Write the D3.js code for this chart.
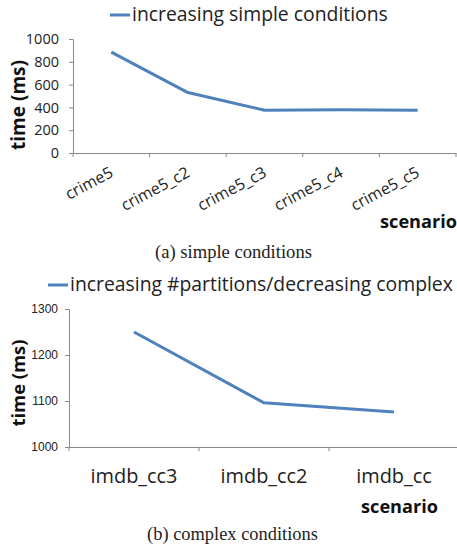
<!DOCTYPE html>
<html><head><meta charset="utf-8">
<script src="https://cdn.jsdelivr.net/npm/d3@7"></script>
<style>body{margin:0;background:#fff}svg{display:block}</style>
</head><body>
<svg id="c" width="457" height="546"></svg>
<script>
const catsA = ["crime5","crime5_c2","crime5_c3","crime5_c4","crime5_c5"];
const valsA = [885, 530, 375, 380, 375];
const ticksA = [0,200,400,600,800,1000];
const legendA = "increasing simple conditions";

const catsB = ["imdb_cc3","imdb_cc2","imdb_cc"];
const valsB = [1250, 1096, 1076];
const ticksB = [1000,1100,1200,1300];
const legendB = "increasing #partitions/decreasing complex";

const svg = d3.select("#c");
const BLUE = "#4F81BD", AX = "#888888", TXT = "#222";
const SANS = "'Open Sans', sans-serif";

function fit(sel, w){
  const n = sel.node();
  const fs = parseFloat(sel.style("font-size"));
  const cur = n.getComputedTextLength();
  sel.style("font-size", (fs*w/cur).toFixed(2)+"px");
  return sel;
}

function panel(o){
  const g = svg.append("g");
  const x = d3.scaleBand().domain(o.cats).range(o.xr);
  const y = d3.scaleLinear().domain(o.yd).range(o.yr);
  const ya = g.append("g").attr("transform",`translate(${o.xr[0]},0)`)
    .call(d3.axisLeft(y).tickValues(o.ticks).tickFormat(d3.format("d"))
      .tickSize(4).tickSizeOuter(0).tickPadding(o.ypad));
  ya.select(".domain").attr("stroke",AX);
  ya.selectAll(".tick line").attr("stroke",AX);
  ya.selectAll(".tick text").attr("fill",TXT).style("font-family",o.yfont).style("font-size",o.yfs+"px");
  const xa = g.append("g").attr("transform",`translate(0,${o.yr[0]})`)
    .call(d3.axisBottom(x).tickSize(0).tickSizeOuter(0));
  xa.select(".domain").attr("stroke",AX);
  xa.selectAll(".tick line").remove();
  const bounds = o.cats.map(c=>x(c)).concat([o.xr[1]]);
  g.selectAll("line.bt").data(bounds).join("line").attr("class","bt")
    .attr("x1",d=>d).attr("x2",d=>d).attr("y1",o.yr[0]).attr("y2",o.yr[0]+4).attr("stroke",AX);
  const tt = xa.selectAll(".tick text").attr("fill",TXT).style("font-family",SANS).style("font-size",o.xfs+"px");
  if (o.rot){
    tt.attr("text-anchor","end").attr("dy","0").attr("y",0)
      .attr("transform",`translate(${o.rotdx},${o.rotdy}) rotate(${o.rot})`);
  } else {
    tt.attr("dy","0").attr("y",o.xly);
    const first = xa.select(".tick text");
    const fs = parseFloat(first.style("font-size"));
    const nf = fs*o.xw/first.node().getComputedTextLength();
    tt.style("font-size", nf.toFixed(2)+"px");
  }
  g.append("path").datum(o.vals)
    .attr("fill","none").attr("stroke",BLUE).attr("stroke-width",3).attr("stroke-linejoin","round")
    .attr("d",d3.line().x((d,i)=>x(o.cats[i])+x.bandwidth()/2).y(d=>y(d)));
  g.append("line").attr("x1",o.lx).attr("x2",o.lx+20).attr("y1",o.ly).attr("y2",o.ly)
    .attr("stroke",BLUE).attr("stroke-width",3);
  fit(g.append("text").attr("x",o.lx+22).attr("y",o.ly+6).text(o.legend)
    .style("font-family",SANS).style("font-size","18px").attr("fill",TXT), o.lw);
  fit(g.append("text").attr("transform",`translate(${o.ytx},${o.yty}) rotate(-90)`)
    .attr("text-anchor","middle").text("time (ms)")
    .style("font-family",SANS).style("font-weight","bold").style("font-size","19px").attr("fill","#111"), o.ytw);
  fit(g.append("text").attr("x",o.stx).attr("y",o.sty).attr("text-anchor","end").text("scenario")
    .style("font-family",SANS).style("font-weight","bold").style("font-size","18px").attr("fill","#111"), 77);
  fit(g.append("text").attr("x",o.cx).attr("y",o.cy).attr("text-anchor","middle").text(o.caption)
    .style("font-family","'Liberation Serif', 'Times New Roman', serif").style("font-size","16px").attr("fill",TXT), o.cw);
}

panel({cats:catsA, vals:valsA, ticks:ticksA, legend:legendA,
  xr:[73,456], yd:[0,1000], yr:[153,39], ypad:10, yfont:SANS, yfs:14.5,
  xfs:16, rot:-28, rotdx:3, rotdy:23,
  lx:110, ly:15, lw:256, ytx:25, yty:105, ytw:90, stx:457, sty:228,
  caption:"(a) simple conditions", cx:233.5, cy:258, cw:157});

panel({cats:catsB, vals:valsB, ticks:ticksB, legend:legendB,
  xr:[69,459], yd:[1000,1300], yr:[447,309], ypad:7, yfont:"'Liberation Sans', Arial, sans-serif", yfs:12,
  xfs:20, rot:0, xly:36, xw:87,
  lx:48, ly:285, lw:383, ytx:25, yty:383, ytw:87, stx:438, sty:513,
  caption:"(b) complex conditions", cx:232.5, cy:540, cw:171});
</script>
</body></html>
